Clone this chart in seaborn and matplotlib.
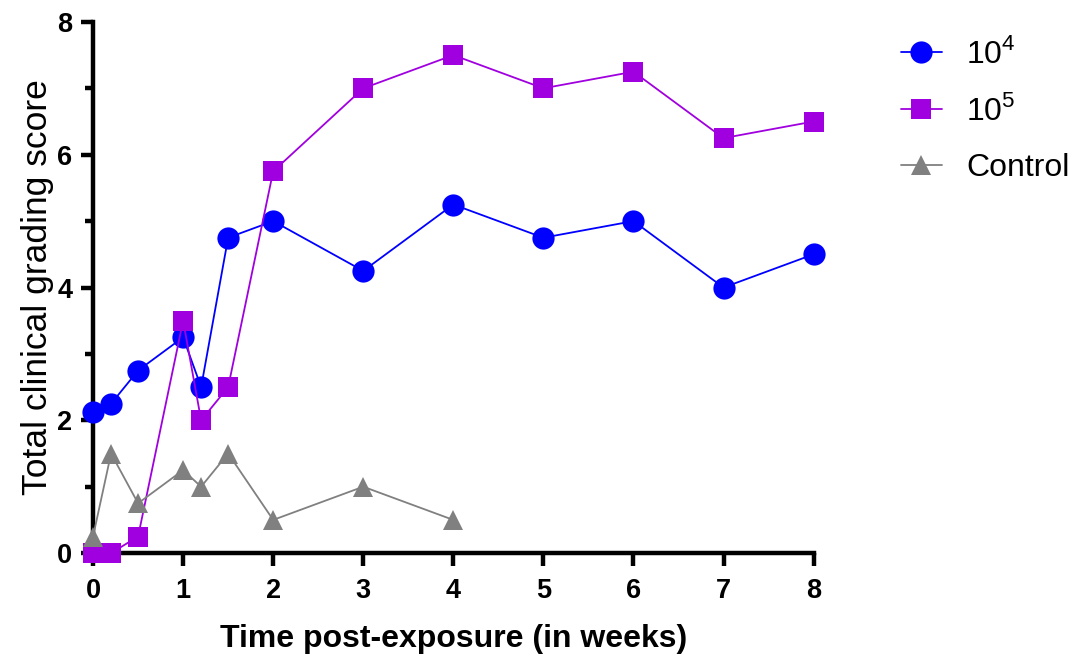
import numpy as np
import pandas as pd
import matplotlib
matplotlib.use("Agg")
import matplotlib.pyplot as plt
from matplotlib.ticker import MultipleLocator
import seaborn as sns

# values
weeks = [0, 0.2, 0.5, 1, 1.2, 1.5, 2, 3, 4, 5, 6, 7, 8]
dose_1e4 = [2.12, 2.25, 2.75, 3.25, 2.5, 4.75, 5.0, 4.25, 5.25, 4.75, 5.0, 4.0, 4.5]
dose_1e5 = [0.0, 0.0, 0.25, 3.5, 2.0, 2.5, 5.75, 7.0, 7.5, 7.0, 7.25, 6.25, 6.5]
control_weeks = [0, 0.2, 0.5, 1, 1.2, 1.5, 2, 3, 4]
control = [0.25, 1.5, 0.75, 1.25, 1.0, 1.5, 0.5, 1.0, 0.5]

labels = ["10$^4$", "10$^5$", "Control"]
df = pd.concat([
    pd.DataFrame({"week": weeks, "score": dose_1e4, "group": labels[0]}),
    pd.DataFrame({"week": weeks, "score": dose_1e5, "group": labels[1]}),
    pd.DataFrame({"week": control_weeks, "score": control, "group": labels[2]}),
])

sns.set_style("ticks")
plt.rcParams["font.family"] = ["Liberation Sans", "DejaVu Sans"]
plt.rcParams["mathtext.fontset"] = "custom"
plt.rcParams["mathtext.rm"] = "Liberation Sans"
plt.rcParams["text.color"] = "black"
plt.rcParams["axes.labelcolor"] = "black"
plt.rcParams["xtick.color"] = "black"
plt.rcParams["ytick.color"] = "black"
plt.rcParams["axes.edgecolor"] = "black"

fig = plt.figure(figsize=(10.77, 6.64), dpi=100)
ax = fig.add_axes([0.0864, 0.167, 0.669, 0.8])

palette = {labels[0]: "#0000FF", labels[1]: "#A000DF", labels[2]: "#808080"}
markers = {labels[0]: "o", labels[1]: "s", labels[2]: "^"}
sizes = {labels[0]: 16, labels[1]: 14.5, labels[2]: 14.5}

for g in labels:
    sub = df[df["group"] == g]
    sns.lineplot(data=sub, x="week", y="score", color=palette[g], marker=markers[g],
                 markersize=sizes[g], markeredgewidth=0, linewidth=1.3, label=g,
                 ax=ax, clip_on=False, zorder=3)

ax.set_xlim(0, 8)
ax.set_ylim(0, 8)
ax.xaxis.set_major_locator(MultipleLocator(1))
ax.yaxis.set_major_locator(MultipleLocator(2))
ax.yaxis.set_minor_locator(MultipleLocator(1))
sns.despine(ax=ax)
for s in ["left", "bottom"]:
    ax.spines[s].set_linewidth(3.2)
ax.tick_params(axis="x", which="major", width=3.2, length=9, labelsize=19.5, pad=9)
ax.tick_params(axis="y", which="major", width=3.2, length=9, labelsize=19.5, pad=6)
ax.tick_params(which="minor", width=3.2, length=6)
for t in ax.get_xticklabels() + ax.get_yticklabels():
    t.set_fontweight("bold")

ax.set_xlabel("Time post-exposure (in weeks)", fontsize=23, fontweight="bold", labelpad=14)
ax.set_ylabel("Total clinical grading score", fontsize=25.5, labelpad=2)

ax.legend(loc="upper left", bbox_to_anchor=(1.103, 0.994), frameon=False, fontsize=23,
          labelspacing=0.8, handlelength=1.3, handletextpad=0.75, borderaxespad=0)

fig.savefig("out.png", dpi=100)
